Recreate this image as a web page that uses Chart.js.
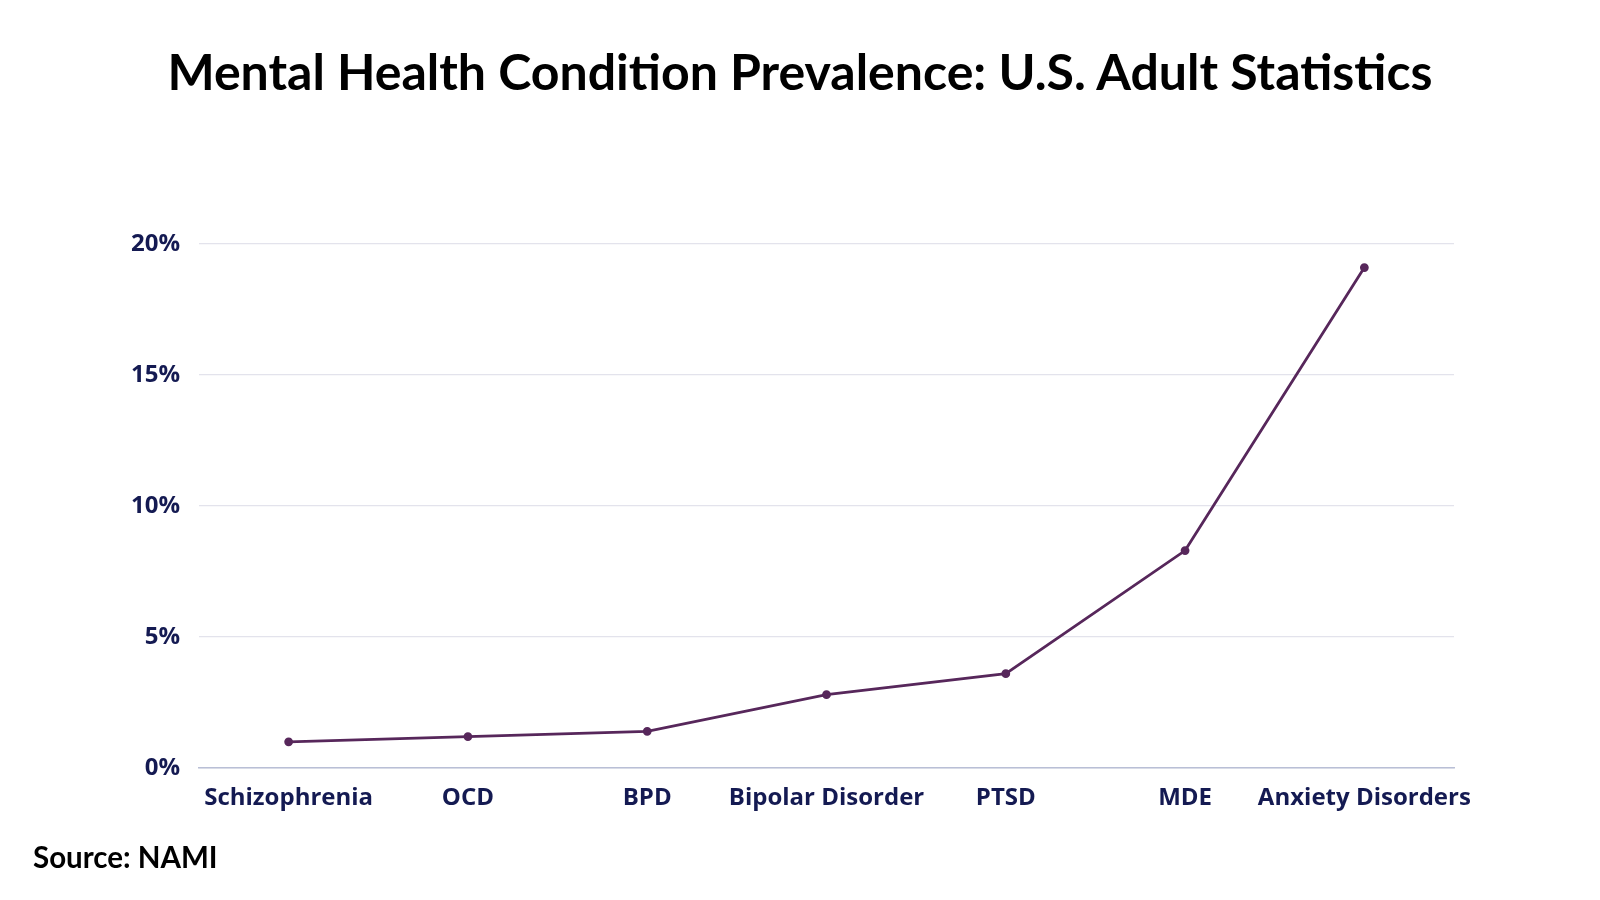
<!DOCTYPE html>
<html>
<head>
  <title>Mental Health Condition Prevalence</title>
  <script src="https://cdn.jsdelivr.net/npm/chart.js"></script>
  <style>
    body { margin: 0; background: #ffffff; }
    #wrap { position: relative; width: 1600px; height: 900px; }
    #title {
      position: absolute; left: 0; top: 41px; width: 1600px; text-align: center; line-height: 60px;
      font-family: Lato, sans-serif; font-weight: 700; font-size: 50px; color: #000;
    }
    #source {
      position: absolute; left: 33px; top: 839px; line-height: 36px;
      font-family: Lato, sans-serif; font-weight: 700; font-size: 29.5px; color: #000;
    }
    canvas { position: absolute; left: 0; top: 0; }
  </style>
</head>
<body>
  <div id="wrap">
    <canvas id="chart" width="1600" height="900"></canvas>
    <div id="title">Mental Health Condition Prevalence: U.S. Adult Statistics</div>
    <div id="source">Source: NAMI</div>
  </div>

  <script>
    const conditions = ['Schizophrenia', 'OCD', 'BPD', 'Bipolar Disorder', 'PTSD', 'MDE', 'Anxiety Disorders'];
    const prevalence = [1.0, 1.2, 1.4, 2.8, 3.6, 8.3, 19.1];
    const yTicks = [0, 5, 10, 15, 20];

    const labelColor = '#141a52';
    const lineColor = '#57275b';

    new Chart(document.getElementById('chart').getContext('2d'), {
      type: 'line',
      data: {
        labels: conditions,
        datasets: [{
          data: prevalence,
          borderColor: lineColor,
          backgroundColor: lineColor,
          borderWidth: 2.8,
          pointRadius: 3,
          pointHoverRadius: 4,
          tension: 0,
          fill: false
        }]
      },
      options: {
        responsive: false,
        animation: false,
        layout: { padding: { left: 0, right: 146, top: 244, bottom: 0 } },
        plugins: { legend: { display: false }, tooltip: { enabled: false } },
        scales: {
          x: {
            offset: true,
            grid: { display: false, drawTicks: false },
            border: { display: true, color: '#b9bfd6', width: 1.5 },
            ticks: {
              color: labelColor, padding: 16, maxRotation: 0, autoSkip: false,
              font: { family: 'Open Sans', weight: '700', size: 24 }
            },
            afterFit: s => { s.height = 132; }
          },
          y: {
            min: 0, max: 20,
            afterBuildTicks: s => { s.ticks = yTicks.map(v => ({ value: v })); },
            grid: { color: '#e3e3ec', lineWidth: 1.2, drawTicks: false },
            border: { display: false },
            ticks: {
              color: labelColor, padding: 19,
              font: { family: 'Open Sans', weight: '700', size: 24 },
              callback: v => v + '%'
            },
            afterFit: s => { s.width = 199; }
          }
        }
      }
    });
  </script>
</body>
</html>
